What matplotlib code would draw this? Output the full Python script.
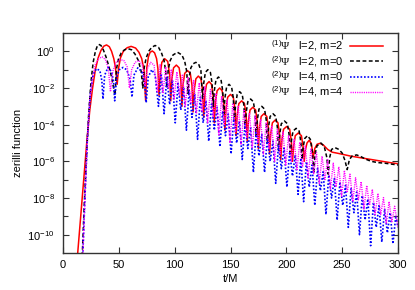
import numpy as np
import matplotlib
matplotlib.use('Agg')
import matplotlib.pyplot as plt
from matplotlib.ticker import FixedLocator, LogFormatterSciNotation, NullFormatter

# (t/M, log10 |psi|), notches and lobe tops
red_pts = [
    (12.5, -11.5), (16, -8.9), (19, -6.6), (21.5, -4.8), (24, -3.2), (26.5, -2.0),
    (29, -1.0), (31.5, -0.35), (34, 0.05), (36.5, 0.28), (39, 0.35), (41.5, 0.25),
    (43.5, 0.0), (45.5, -0.4), (47, -0.9), (48.5, -1.8),
    (49.8, -0.9), (51.5, -0.35), (54, 0.0), (57.5, 0.2), (61, 0.27), (65, 0.18),
    (68, -0.05), (70.5, -0.4), (72.5, -1.0), (74, -2.7),
    (75, -0.9), (76.5, -0.3), (78, -0.05), (80, 0.02), (82, -0.08), (83.8, -0.4),
    (85, -0.95), (86, -2.4),
    (87, -1.3), (88.5, -0.6), (91, -0.4), (93.8, -0.55), (95.5, -1.3), (96.5, -2.7),
    (97.5, -1.5), (99, -0.9), (101.5, -0.75), (104, -0.9), (105.5, -1.55), (106.5, -3.0),
    (107.5, -1.8), (109, -1.2), (111.5, -1.05), (114, -1.2), (115.5, -1.85), (116.5, -3.3),
    (117.5, -2.1), (119, -1.5), (121.2, -1.35), (123.5, -1.5), (125, -2.15), (126, -3.6),
    (127, -2.4), (128.5, -1.8), (130.8, -1.65), (133, -1.8), (134.5, -2.45), (135.5, -3.9),
    (136.5, -2.75), (138, -2.15), (140.3, -2.0), (142.5, -2.15), (144, -2.8), (145, -4.3),
    (146, -3.1), (147.5, -2.5), (150, -2.35), (152.5, -2.5), (154, -3.15), (155, -4.6),
    (156, -3.45), (157.5, -2.85), (160, -2.7), (162.5, -2.85), (164, -3.5), (165, -4.9),
    (166, -3.8), (167.5, -3.2), (170, -3.05), (172.5, -3.2), (174, -3.85), (175, -5.3),
    (176, -4.15), (177.5, -3.55), (180, -3.4), (182.5, -3.55), (184, -4.2), (185, -5.6),
    (186, -4.5), (187.5, -3.9), (190, -3.75), (192.5, -3.9), (194, -4.55), (195, -5.9),
    (196, -4.85), (197.5, -4.25), (200.3, -4.1), (203, -4.25), (204.5, -4.9), (205.5, -6.0),
    (206.5, -5.2), (208, -4.6), (210.8, -4.45), (213.5, -4.6), (215, -5.2), (216, -6.0),
    (217, -5.4), (218.5, -5.0), (220.5, -4.85), (222.5, -5.05), (224, -5.8),
    (225.5, -5.3), (227.5, -5.07), (230, -5.02), (233, -5.1), (237, -5.35), (241, -5.5),
    (246, -5.56), (252, -5.64), (258, -5.72), (264, -5.78), (270, -5.84), (276, -5.9),
    (282, -5.96), (288, -6.02), (294, -6.08), (300, -6.13),
]

black_pts = [
    (17, -11.5), (19, -8.4), (21, -5.8), (23, -3.4), (25, -1.7), (27, -0.6), (29, 0.0),
    (30.5, 0.25), (32, 0.38), (34, 0.32), (36, 0.1), (38.5, -0.3), (41, -0.8),
    (43.5, -1.4), (45.3, -2.0), (46.5, -2.4),
    (47.8, -1.0), (49.5, -0.45), (52, -0.1), (55, 0.08), (58, 0.15), (61.5, 0.08),
    (64.5, -0.15), (67.5, -0.5), (70, -1.1), (71.5, -2.0),
    (72.7, -0.9), (74.5, -0.35), (77, 0.02), (79.5, 0.22), (82.5, 0.32), (85.5, 0.22),
    (88, -0.05), (90.5, -0.5), (92, -1.1), (93, -2.0),
    (94.2, -1.0), (96, -0.5), (98.5, -0.2), (102.5, -0.05), (106.5, -0.2), (109, -0.55),
    (110.8, -1.1), (112, -2.3),
    (113, -1.4), (114.5, -0.9), (116.5, -0.68), (119, -0.6), (121.5, -0.7), (123.5, -1.05), (125, -2.6),
    (126, -1.75), (127.5, -1.15), (129.7, -1.0), (132, -1.15), (133.5, -1.75), (134.5, -3.0),
    (135.5, -2.15), (137, -1.55), (139.2, -1.4), (141.5, -1.55), (143, -2.15), (144, -3.4),
    (145, -2.55), (146.5, -1.95), (148.7, -1.8), (151, -1.95), (152.5, -2.55), (153.5, -3.8),
    (154.5, -2.95), (156, -2.35), (158.2, -2.2), (160.5, -2.35), (162, -2.95), (163, -4.2),
    (164, -3.35), (165.5, -2.75), (168, -2.6), (170.5, -2.75), (172, -3.35), (173, -4.6),
    (174, -3.75), (175.5, -3.15), (178, -3.0), (180.5, -3.15), (182, -3.75), (183, -5.0),
    (184, -4.15), (185.5, -3.55), (188, -3.4), (190.5, -3.55), (192, -4.15), (193, -5.4),
    (194, -4.55), (195.5, -3.95), (198.3, -3.8), (201, -3.95), (202.5, -4.55), (203.5, -5.7),
    (204.5, -4.9), (206, -4.35), (208.8, -4.2), (211.5, -4.35), (213, -4.95), (214, -5.9),
    (215, -5.25), (216.5, -4.75), (219, -4.6), (221.5, -4.8), (223.3, -5.5), (224.5, -6.65),
    (225.7, -5.6), (227.5, -5.15), (231, -5.0), (234, -5.2), (236.3, -5.8), (237.5, -6.7),
    (238.8, -5.8), (240.5, -5.35), (243.5, -5.25), (247, -5.35), (250, -5.55), (252.5, -5.95), (254.5, -6.45),
    (256.5, -5.9), (259, -5.7), (263, -5.65), (267, -5.75), (271, -5.88), (276, -6.0),
    (282, -6.07), (288, -6.1), (294, -6.15), (300, -6.2),
]

blue_pts = [
    (17.5, -11.5), (19.5, -8.2), (21.8, -4.8), (24.5, -2.3), (27, -1.25), (30, -0.95),
    (33, -1.05), (34.8, -1.6), (35.8, -2.6),
    (37.3, -1.3), (40.3, -0.88), (43.3, -1.1), (45.2, -1.6), (46.3, -2.7),
    (48, -1.4), (50.5, -1.0), (53.7, -0.88), (57, -1.0), (60, -1.5), (61.8, -2.5),
    (63.5, -1.3), (67, -0.9), (70.5, -1.1), (73, -1.6), (74.5, -2.8),
    (76.3, -1.4), (79.5, -1.0), (82.5, -1.3), (85.5, -3.0),
    (88, -1.20), (90.5, -3.4), (93, -1.39), (95.5, -2.9), (98, -1.57), (100.5, -3.9),
    (103, -1.76), (105.5, -3.2), (108, -1.94), (110.5, -4.3), (113, -2.13), (115.5, -3.6),
    (118, -2.31), (120.5, -4.8), (123, -2.50), (125.5, -3.9), (128, -2.68), (130.5, -4.9),
    (133, -2.87), (135.5, -4.3), (138, -3.05), (140.5, -5.2), (143, -3.24), (145.5, -4.6),
    (148, -3.42), (150.5, -5.6), (153, -3.61), (155.5, -5.0), (158, -3.79), (160.5, -5.9),
    (163, -3.98), (165.5, -5.3), (168, -4.16), (170.5, -6.6), (173, -4.35), (175.5, -5.7),
    (178, -4.53), (180.5, -6.6), (183, -4.72), (185.5, -6.0), (188, -4.90), (190.5, -7.2),
    (193, -5.09), (195.5, -6.4), (198, -5.27), (200.5, -7.4), (203, -5.46), (205.5, -6.8),
    (208, -5.64), (210.5, -7.8), (213, -5.83), (215.5, -8.2), (218, -6.01), (220.5, -7.4),
    (223, -6.20), (225.5, -8.4), (228, -6.38), (230.5, -7.6), (233, -6.57), (235.5, -8.9),
    (238, -6.75), (240.5, -8.0), (243, -6.94), (245.5, -9.2), (248, -7.12), (250.5, -8.4),
    (253, -7.31), (255.5, -9.6), (258, -7.49), (260.5, -8.8), (263, -7.68), (265.5, -10.0),
    (268, -7.86), (270.5, -9.2), (273, -8.05), (275.5, -10.6), (278, -8.23), (280.5, -9.6),
    (283, -8.42), (285.5, -10.4), (288, -8.60), (290.5, -9.9), (293, -8.79), (295.5, -10.5),
    (298, -8.97), (300, -9.6),
]

magenta_pts = [
    (17.5, -11.5), (19.5, -8.3), (21.8, -4.8), (24, -2.6), (26.5, -1.4), (29, -0.7),
    (32, -0.4), (35, -0.3), (38, -0.45), (40.5, -0.9), (42.5, -2.2),
    (44.5, -1.1), (47.5, -0.6), (51, -0.45), (54.5, -0.5), (57.5, -0.85), (59.5, -2.0),
    (61.5, -1.0), (64.5, -0.6), (68, -0.5), (71, -0.75), (73.5, -1.9),
    (75.5, -0.95), (78.5, -0.6), (81.5, -0.75), (84.5, -2.2),
    (87, -0.70), (89.5, -2.3), (92, -0.85), (94.5, -2.0), (97, -0.98), (99.5, -2.6),
    (102, -1.12), (104.5, -2.4), (107, -1.25), (109.5, -3.0), (112, -1.40), (114.5, -2.8),
    (117, -1.55), (119.5, -3.4), (122, -1.72), (124.5, -3.3), (127, -1.90), (129.5, -3.9),
    (132, -2.08), (134.5, -3.6), (137, -2.28), (139.5, -4.6), (142, -2.47), (144.5, -4.0),
    (147, -2.65), (149.5, -5.0), (152, -2.83), (154.5, -4.4), (157, -3.00), (159.5, -5.1),
    (162, -3.17), (164.5, -4.7), (167, -3.35), (169.5, -5.3), (172, -3.52), (174.5, -5.0),
    (177, -3.70), (179.5, -5.6), (182, -3.87), (184.5, -5.3), (187, -4.05), (189.5, -6.0),
    (192, -4.22), (194.5, -5.6), (197, -4.40), (199.5, -6.2), (202, -4.58), (204.5, -6.0),
    (207, -4.77), (209.5, -6.5), (212, -4.95), (214.5, -6.3), (217, -5.14), (219.5, -6.9),
    (222, -5.33), (224.5, -6.7), (227, -5.52), (229.5, -7.2), (232, -5.72), (234.5, -7.0),
    (237, -5.91), (239.5, -7.5), (242, -6.10), (244.5, -7.4), (247, -6.30), (249.5, -7.9),
    (252, -6.50), (254.5, -7.7), (257, -6.70), (259.5, -8.2), (262, -6.90), (264.5, -8.1),
    (267, -7.11), (269.5, -8.6), (272, -7.32), (274.5, -8.4), (277, -7.53), (279.5, -8.9),
    (282, -7.75), (284.5, -8.9), (287, -7.98), (289.5, -9.4), (292, -8.20), (294.5, -9.3),
    (297, -8.45), (300, -9.6),
]

labels = [r'$^{(1)}\mathcal{\Psi}$   l=2, m=2',
          r'$^{(2)}\mathcal{\Psi}$   l=2, m=0',
          r'$^{(2)}\mathcal{\Psi}$   l=4, m=0',
          r'$^{(2)}\mathcal{\Psi}$   l=4, m=4']
y_major = [1e0, 1e-2, 1e-4, 1e-6, 1e-8, 1e-10]
y_minor = [1e-1, 1e-3, 1e-5, 1e-7, 1e-9]
x_ticks = [0, 50, 100, 150, 200, 250, 300]

plt.rcParams['font.family'] = ['Liberation Sans', 'DejaVu Sans']
plt.rcParams['mathtext.fontset'] = 'custom'
plt.rcParams['mathtext.rm'] = 'Liberation Sans'
plt.rcParams['mathtext.it'] = 'Liberation Sans:italic'
plt.rcParams['mathtext.cal'] = 'Liberation Serif'

fig = plt.figure(figsize=(4.15, 2.9), dpi=100)
ax = fig.add_axes([63 / 415, 37 / 290, 335 / 415, 220 / 290])

styles = [
    dict(color='#ff0000', lw=1.1, ls='-'),
    dict(color='#000000', lw=1.1, dashes=(2.5, 1.6)),
    dict(color='#0000ff', lw=1.2, dashes=(1, 1.1)),
    dict(color='#ff00ff', lw=1.0, dashes=(0.8, 0.8)),
]
for pts, st, lab in zip([red_pts, black_pts, blue_pts, magenta_pts], styles, labels):
    t, e = np.array(pts).T
    ax.plot(t, 10.0 ** e, label=lab, **st)

ax.set_yscale('log')
ax.set_xlim(0, 300)
ax.set_ylim(1e-11, 1e1)
ax.yaxis.set_major_locator(FixedLocator(y_major))
ax.yaxis.set_minor_locator(FixedLocator(y_minor))
ax.yaxis.set_major_formatter(LogFormatterSciNotation())
ax.yaxis.set_minor_formatter(NullFormatter())
ax.xaxis.set_major_locator(FixedLocator(x_ticks))

ax.tick_params(which='both', direction='in', top=True, right=True,
               labelsize=8, color='#333333', width=0.8)
ax.tick_params(which='major', length=4)
ax.tick_params(which='minor', length=3.5)
ax.tick_params(axis='x', pad=5)
ax.tick_params(axis='y', pad=6)
for sp in ax.spines.values():
    sp.set_color('#333333')
    sp.set_linewidth(1.0)

ax.set_xlabel('t/M', fontsize=8, labelpad=3)
ax.set_ylabel('zerilli function', fontsize=8, labelpad=3)

ax.legend(loc='upper right', bbox_to_anchor=(1 - 9 / 335, 1.0), frameon=False,
          fontsize=8, markerfirst=False, handlelength=3.0, handletextpad=0.6,
          labelspacing=0.05, borderaxespad=0.2, borderpad=0.3)

fig.savefig('out.png', dpi=100)
